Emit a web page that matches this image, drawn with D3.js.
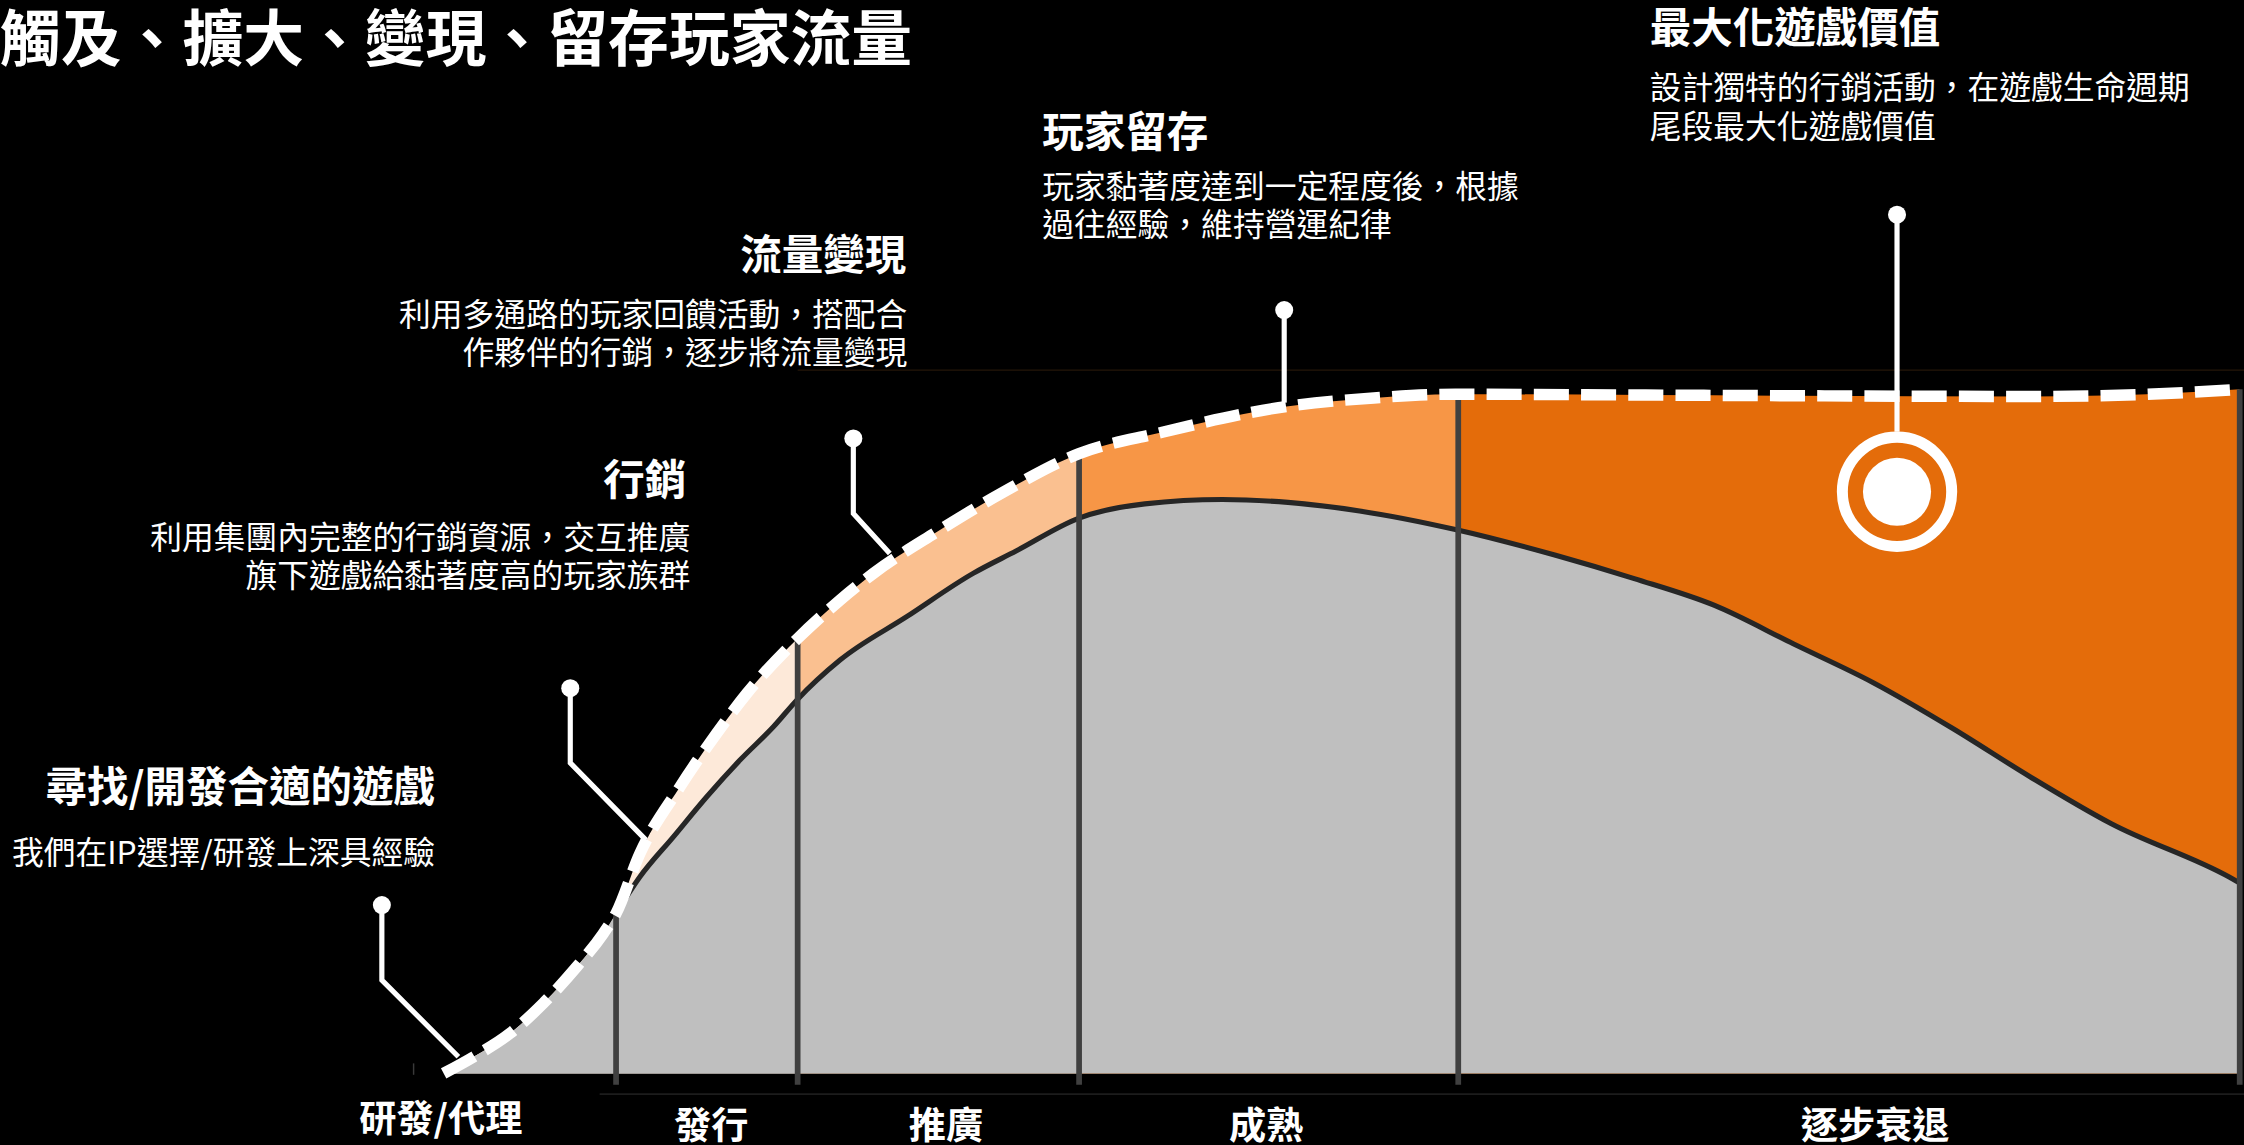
<!doctype html>
<html lang="zh-Hant">
<head>
<meta charset="utf-8" />
<title>觸及、擴大、變現、留存玩家流量</title>
<script src="https://cdn.jsdelivr.net/npm/d3@7"></script>
<style>
 html, body { margin: 0; padding: 0; background: #000; }
 svg { display: block; }
 text { font-family: "Noto Sans CJK TC", "Noto Sans CJK SC", sans-serif; fill: #fff; }
</style>
</head>
<body>
<script type="text/javascript">

 // life-cycle stages (x in 0..100 time units)
 var stageNames  = ["研發/代理", "發行", "推廣", "成熟", "逐步衰退"];
 var stageEnds   = [9.6, 19.71, 35.38, 56.49, 100];
 var stageLabelT = [-0.16, 14.9, 27.97, 45.8, 79.7];
 var stageColors = ["#FDE9D9", "#FDE9D9", "#FAC090", "#F79646", "#E46C0A"];

 // total reachable traffic (white dashed envelope)
 var envT = [0, 1.67, 3.70, 5.55, 7.41, 8.89, 9.60, 10.93, 13.16, 15.20, 16.88, 19.71, 22.07, 23.93,
             27.41, 31.00, 35.38, 39.82, 46.93, 51.79, 56.33, 66.93, 75.14, 88.37, 94.82, 100];
 var envV = [0, 2.36, 5.70, 9.97, 15.16, 19.90, 22.75, 31.28, 40.76, 48.35, 54.03, 61.84, 67.30, 71.10,
             76.92, 82.42, 88.12, 91.05, 94.83, 96.05, 96.58, 96.46, 96.36, 96.26, 96.56, 97.27];

 // base players (grey area, from launch onwards)
 var coreT = [9.60, 10.93, 12.79, 14.65, 16.50, 18.36, 19.66, 22.07, 25.78, 29.48, 31.87, 35.38, 39.04,
              43.35, 47.01, 51.00, 56.33, 61.91, 66.29, 70.76, 75.14, 79.60, 83.98, 88.37, 92.83, 99.44, 100];
 var coreV = [22.75, 27.96, 33.64, 39.34, 44.55, 49.29, 53.07, 58.77, 64.94, 71.10, 74.28, 78.96, 80.99,
              81.60, 81.20, 79.98, 77.34, 73.67, 70.35, 66.54, 61.09, 55.56, 49.12, 42.12, 35.53, 27.88, 27.07];

 var titleText = "觸及、擴大、變現、留存玩家流量";
 var noteTitles = ["尋找/開發合適的遊戲", "行銷", "流量變現", "玩家留存", "最大化遊戲價值"];
 var noteLines = [
     ["我們在IP選擇/研發上深具經驗"],
     ["利用集團內完整的行銷資源，交互推廣", "旗下遊戲給黏著度高的玩家族群"],
     ["利用多通路的玩家回饋活動，搭配合", "作夥伴的行銷，逐步將流量變現"],
     ["玩家黏著度達到一定程度後，根據", "過往經驗，維持營運紀律"],
     ["設計獨特的行銷活動，在遊戲生命週期", "尾段最大化遊戲價值"]
 ];

 // leader callouts, in data units (t, v)
 var leaderPts = [
     [[-3.44, 23.93], [-3.44, 13.27], [0.82, 2.36]],
     [[7.05, 54.78], [7.05, 44.16], [11.27, 33.17]],
     [[22.81, 90.29], [22.81, 79.63], [24.84, 73.93]],
     [[46.80, 108.55], [46.80, 95.38]],
     [[80.92, 122.1], [80.92, 91.25]]
 ];
 var ringAt = [80.92, 82.70];

 var W = 1568, H = 800;

 var svg = d3.select("body")
     .append("svg")
     .attr("width", 2244)
     .attr("height", 1145)
     .attr("viewBox", "0 0 " + W + " " + H);

 var x = d3.scaleLinear().domain([0, 100]).range([310, 1565]);
 var y = d3.scaleLinear().domain([0, 100]).range([750, 258.6]);
 var envAt = d3.scaleLinear().domain(envT).range(envV);

 var env = envT.map(function(t, i){ return [t, envV[i]]; });
 var core = coreT.map(function(t, i){ return [t, coreV[i]]; });
 var grey = env.filter(function(d){ return d[0] < coreT[0]; }).concat(core);

 var area = d3.area()
     .curve(d3.curveMonotoneX)
     .x(function(d){ return x(d[0]); })
     .y0(y(0))
     .y1(function(d){ return y(d[1]); });

 var line = d3.line()
     .curve(d3.curveMonotoneX)
     .x(function(d){ return x(d[0]); })
     .y(function(d){ return y(d[1]); });

 // faint guide lines
 svg.append("line")
     .attr("x1", x(stageEnds[1])).attr("x2", W)
     .attr("y1", y(100)).attr("y2", y(100))
     .attr("stroke", "#241608").attr("stroke-width", 1);
 svg.append("line")
     .attr("x1", 419).attr("x2", W)
     .attr("y1", y(0) + 14.5).attr("y2", y(0) + 14.5)
     .attr("stroke", "#1c1c1c").attr("stroke-width", 1.2);
 svg.append("line")
     .attr("x1", 289).attr("x2", 289)
     .attr("y1", y(0) - 7).attr("y2", y(0) + 1)
     .attr("stroke", "#3a3a3a").attr("stroke-width", 1);

 // stage colour bands under the envelope
 var defs = svg.append("defs");
 stageEnds.forEach(function(end, i){
     var start = i === 0 ? 0 : stageEnds[i - 1];
     defs.append("clipPath").attr("id", "stage" + i)
         .append("rect")
         .attr("x", x(start)).attr("width", x(end) - x(start))
         .attr("y", 0).attr("height", H);
     svg.append("path")
         .datum(env)
         .attr("d", area)
         .attr("fill", stageColors[i])
         .attr("clip-path", "url(#stage" + i + ")");
 });

 // grey base area + outline
 svg.append("path")
     .datum(grey)
     .attr("d", area)
     .attr("fill", "#BFBFBF");

 svg.append("path")
     .datum(core)
     .attr("d", line)
     .attr("fill", "none")
     .attr("stroke", "#262626")
     .attr("stroke-width", 3.6);

 // stage dividers
 svg.selectAll(".divider")
     .data(stageEnds)
     .enter()
     .append("line")
     .attr("class", "divider")
     .attr("x1", function(d){ return x(d); })
     .attr("x2", function(d){ return x(d); })
     .attr("y1", function(d){ return y(envAt(d)); })
     .attr("y2", y(0) + 8)
     .attr("stroke", "#404040")
     .attr("stroke-width", 4);

 // dashed envelope
 svg.append("path")
     .datum(env)
     .attr("d", line)
     .attr("fill", "none")
     .attr("stroke", "#fff")
     .attr("stroke-width", 8)
     .attr("stroke-dasharray", "24.5 8.5");

 // callout leaders
 svg.selectAll(".leader")
     .data(leaderPts)
     .enter()
     .append("path")
     .attr("class", "leader")
     .attr("d", d3.line().x(function(d){ return x(d[0]); }).y(function(d){ return y(d[1]); }))
     .attr("fill", "none")
     .attr("stroke", "#fff")
     .attr("stroke-width", 3.6)
     .attr("stroke-linejoin", "miter");

 svg.selectAll(".dot")
     .data(leaderPts)
     .enter()
     .append("circle")
     .attr("class", "dot")
     .attr("cx", function(d){ return x(d[0][0]); })
     .attr("cy", function(d){ return y(d[0][1]); })
     .attr("r", 6.3)
     .attr("fill", "#fff");

 svg.append("circle")
     .attr("cx", x(ringAt[0])).attr("cy", y(ringAt[1]))
     .attr("r", 38.2)
     .attr("fill", "none")
     .attr("stroke", "#fff")
     .attr("stroke-width", 7.7);
 svg.append("circle")
     .attr("cx", x(ringAt[0])).attr("cy", y(ringAt[1]))
     .attr("r", 23.8)
     .attr("fill", "#fff");

 // title
 svg.append("text")
     .attr("x", 0).attr("y", 42.5)
     .attr("font-size", 42.5)
     .attr("font-weight", 700)
     .text(titleText);

 // annotation text blocks
 var noteLayout = [
     {tx: 304,    ty: 560.3, bx: 304,    by: [603.9],        anchor: "end"},
     {tx: 479.5,  ty: 345.7, bx: 482.3,  by: [383.7, 410.2], anchor: "end"},
     {tx: 633.3,  ty: 188.6, bx: 634,    by: [227.5, 254.4], anchor: "end"},
     {tx: 728.3,  ty: 102.5, bx: 728.3,  by: [138, 164.7],   anchor: "start"},
     {tx: 1152.8, ty: 30.3,  bx: 1152.8, by: [69.2, 96.1],   anchor: "start"}
 ];

 noteTitles.forEach(function(t, i){
     var L = noteLayout[i];
     svg.append("text")
         .attr("x", L.tx).attr("y", L.ty)
         .attr("text-anchor", L.anchor)
         .attr("font-size", 29)
         .attr("font-weight", 700)
         .text(t);
     noteLines[i].forEach(function(s, j){
         svg.append("text")
             .attr("x", L.bx).attr("y", L.by[j])
             .attr("text-anchor", L.anchor)
             .attr("font-size", 22.2)
             .attr("font-weight", 400)
             .text(s);
     });
 });

 // stage labels along the bottom
 svg.selectAll(".stage-label")
     .data(stageNames)
     .enter()
     .append("text")
     .attr("class", "stage-label")
     .attr("x", function(d, i){ return x(stageLabelT[i]); })
     .attr("y", function(d, i){ return i === 0 ? 791 : 796; })
     .attr("text-anchor", "middle")
     .attr("font-size", 26)
     .attr("font-weight", 700)
     .text(function(d){ return d; });

</script>
</body>
</html>
